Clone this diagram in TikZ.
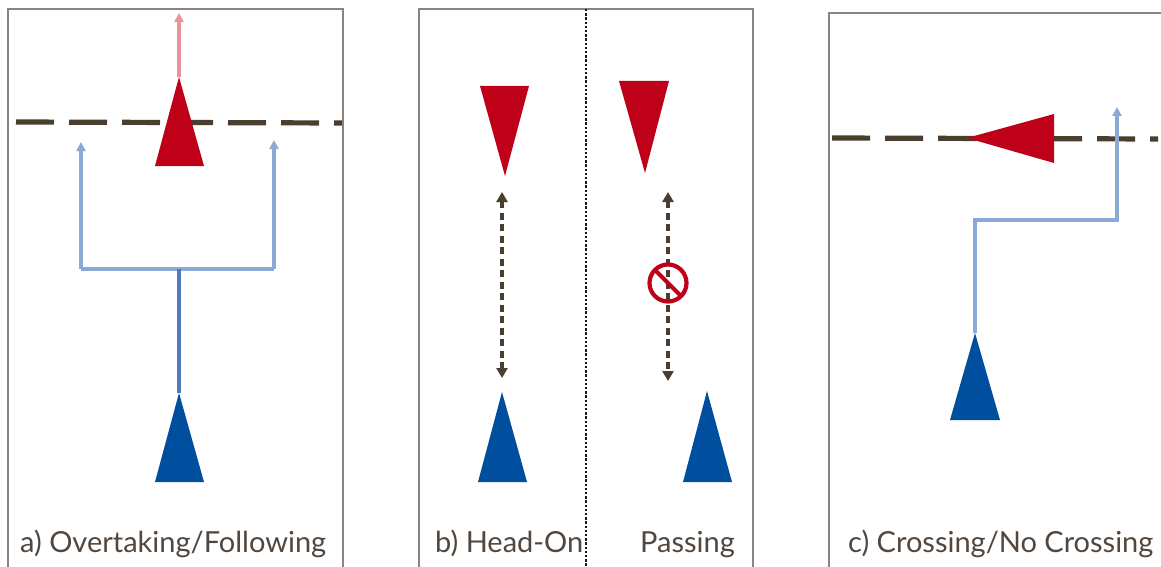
\documentclass[tikz,border=0pt]{standalone}
\usepackage{fontspec}
\setmainfont{Lato}
\usetikzlibrary{arrows.meta,calc}
\definecolor{carred}{HTML}{BE0019}
\definecolor{carpink}{HTML}{E8939A}
\definecolor{carblue}{HTML}{004F9F}
\definecolor{pathblue}{HTML}{8AAAD5}
\definecolor{midblue}{HTML}{5079BA}
\definecolor{lanebrown}{HTML}{4A3E2E}
\definecolor{framegray}{HTML}{8C837B}
\definecolor{labelgray}{HTML}{52473E}
\tikzset{
  frame/.style={draw=framegray, line width=1.8pt},
  lane/.style={draw=lanebrown, line width=5.2pt, dash pattern=on 38pt off 15pt},
  redcar/.style={fill=carred},
  bluecar/.style={fill=carblue},
  route/.style={draw=pathblue, line width=3.2pt, -{Triangle[length=9pt,width=9pt]}},
  routeline/.style={draw=pathblue, line width=3.2pt},
  gap/.style={draw=lanebrown, line width=3.2pt, dash pattern=on 7pt off 4.5pt,
    {Triangle[length=10pt,width=11pt]}-{Triangle[length=10pt,width=11pt]}},
  divider/.style={draw=black!90, line width=2.6pt, dash pattern=on 2.4pt off 1.8pt},
  caption/.style={anchor=base west, inner sep=0pt, text=labelgray, font=\fontsize{29}{31}\selectfont}
}
\begin{document}
\begin{tikzpicture}[x=1pt, y=-1pt]
\useasboundingbox (0,0) rectangle (1161,567);
\fill[white] (0,0) rectangle (1161,567);

% ---------- a) overtaking / following ----------
\draw[frame] (8,575) -- (8,9) -- (343,9) -- (343,575);
\draw[lane] (16,122) -- (342,123);
\coordinate (aRedTip) at (179,77);
\coordinate (aRedGoal) at (179,13);
\draw[draw=carpink, line width=3.2pt, -{Triangle[length=9pt,width=9pt]}] (aRedTip) -- (aRedGoal);
\fill[redcar] (aRedTip) -- (204,166) -- (155,166) -- cycle;
\coordinate (aBlueTip) at (179,393);
\coordinate (aFork) at (179,269);
\coordinate (aLeftCorner) at (81,269);
\coordinate (aRightCorner) at (274,269);
\coordinate (aLeftGoal) at (81,142);
\coordinate (aRightGoal) at (274,140);
\draw[routeline] (aLeftCorner) -- (aRightCorner);
\draw[route] (aLeftCorner) -- (aLeftGoal);
\draw[route] (aRightCorner) -- (aRightGoal);
\draw[draw=midblue, line width=3.2pt] (aBlueTip) -- (aFork);
\fill[bluecar] (aBlueTip) -- (204,482) -- (155,482) -- cycle;
\node[caption] (aLabel) at (20,552) {a) Overtaking/Following};

% ---------- b) head-on / passing ----------
\draw[frame] (419,575) -- (419,9) -- (753,9) -- (753,575);
\coordinate (bTop) at (586,9);
\coordinate (bBottom) at (586,567);
\draw[divider] (bTop) -- (bBottom);
% head-on
\coordinate (bRedTipL) at (505,176);
\fill[redcar] (480,86) -- (529,86) -- (bRedTipL) -- cycle;
\coordinate (bGapTopL) at (502,192);
\coordinate (bGapBotL) at (502,378);
\draw[gap] (bGapTopL) -- (bGapBotL);
\coordinate (bBlueTipL) at (502,392);
\fill[bluecar] (bBlueTipL) -- (527,482) -- (478,482) -- cycle;
% passing
\coordinate (bRedTipR) at (645,173);
\fill[redcar] (619,81) -- (669,81) -- (bRedTipR) -- cycle;
\coordinate (bGapTopR) at (668,192);
\coordinate (bGapBotR) at (668,381);
\draw[gap] (bGapTopR) -- (bGapBotR);
\coordinate (bNoSign) at (668,283);
\draw[carred, line width=4.2pt] (bNoSign) circle (18.5pt);
\draw[carred, line width=4.2pt] ($(bNoSign)+(-13.1,-13.1)$) -- ($(bNoSign)+(13.1,13.1)$);
\coordinate (bBlueTipR) at (707,391);
\fill[bluecar] (bBlueTipR) -- (732,482) -- (683,482) -- cycle;
\node[caption] (bLabelL) at (435,552) {b) Head-On};
\node[caption] (bLabelR) at (640,552) {Passing};

% ---------- c) crossing / no crossing ----------
\draw[frame] (829,575) -- (829,13) -- (1170,13);
\draw[lane] (832,138) -- (1158,139);
\coordinate (cRedTip) at (967,138);
\fill[redcar] (cRedTip) -- (1054,114) -- (1054,163) -- cycle;
\coordinate (cBlueTip) at (975,333);
\coordinate (cBendLow) at (975,220);
\coordinate (cBendHigh) at (1117,220);
\coordinate (cGoal) at (1117,107);
\draw[route] (cBlueTip) -- (cBendLow) -- (cBendHigh) -- (cGoal);
\fill[bluecar] (cBlueTip) -- (1000,420) -- (950,420) -- cycle;
\node[caption] (cLabel) at (848,552) {c) Crossing/No Crossing};
\end{tikzpicture}
\end{document}
